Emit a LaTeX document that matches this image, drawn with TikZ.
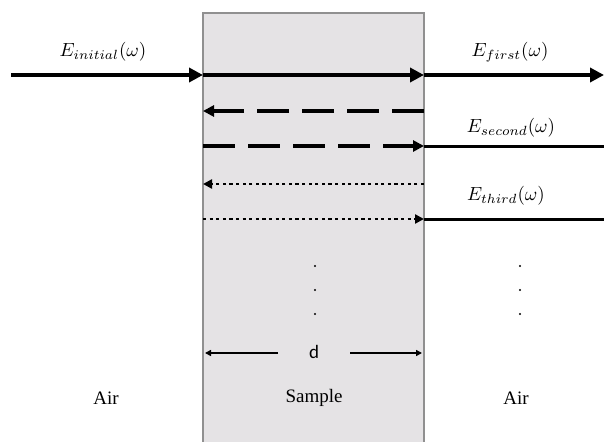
\documentclass[tikz,border=0pt]{standalone}
\usepackage{fontspec}
\setmainfont{Liberation Serif}
\newfontfamily\dfont{Carlito}
\usetikzlibrary{arrows.meta}
\definecolor{samplefill}{HTML}{E5E3E5}
\definecolor{sampleedge}{HTML}{909090}
\newcommand{\bigmath}[1]{\scalebox{1.9}{$#1$}}
\begin{document}
\begin{tikzpicture}[x=1pt,y=-1pt,
  thickline/.style={line width=4.5pt,-{Triangle[length=14pt,width=14pt]}},
  dashline/.style={line width=4pt,dash pattern=on 32pt off 13pt,-{Triangle[length=11pt,width=11pt]}},
  dotline/.style={line width=2.8pt,dash pattern=on 3.2pt off 3.4pt,-{Triangle[length=9pt,width=9pt]}},
  solidline/.style={line width=3pt},
  mathlabel/.style={inner sep=0pt},
  txt/.style={font=\fontsize{19}{21}\selectfont,inner sep=0pt},
  dimline/.style={line width=1.5pt,-{Triangle[length=6pt,width=6pt]}},
  dotnode/.style={circle,fill=black,inner sep=0pt,minimum size=2.4pt}]
\useasboundingbox (0,0) rectangle (604,441);
\fill[samplefill] (203,13) rectangle (424,445);
\draw[sampleedge,line width=1.5pt] (203,445) -- (203,13) -- (424,13) -- (424,445);
% coordinates
\coordinate (a0) at (11,75);
\coordinate (aL) at (203,75);
\coordinate (aR) at (424,75);
\coordinate (aE) at (604,75);
\coordinate (bL) at (203,111);
\coordinate (bR) at (424,111);
\coordinate (cL) at (203,146);
\coordinate (cR) at (424,146);
\coordinate (cE) at (604,146);
\coordinate (dL) at (203,184);
\coordinate (dR) at (424,184);
\coordinate (eL) at (203,219);
\coordinate (eR) at (424,219);
\coordinate (eE) at (604,219);
% arrows
\draw[thickline] (a0) -- (aL);
\draw[thickline] (aL) -- (aR);
\draw[thickline] (aR) -- (aE);
\draw[dashline] (bR) -- (bL);
\draw[dashline] (cL) -- (cR);
\draw[solidline] (cR) -- (cE);
\draw[dotline] (dR) -- (dL);
\draw[dotline] (eL) -- (eR);
\draw[solidline] (eR) -- (eE);
% labels
\node[mathlabel] (Li) at (103,52) {\bigmath{E_{initial}(\omega)}};
\node[mathlabel] (Lf) at (510,52) {\bigmath{E_{first}(\omega)}};
\node[mathlabel] (Ls) at (511,128) {\bigmath{E_{second}(\omega)}};
\node[mathlabel] (Lt) at (506,196) {\bigmath{E_{third}(\omega)}};
% dots
\node[dotnode] (m1) at (315,266) {};
\node[dotnode] (m2) at (315,290) {};
\node[dotnode] (m3) at (315,314) {};
\node[dotnode] (r1) at (520,266) {};
\node[dotnode] (r2) at (520,290) {};
\node[dotnode] (r3) at (520,314) {};
% dimension
\node[inner sep=0pt,font=\dfont\fontsize{19}{21}\selectfont] (d) at (314,352) {d};
\coordinate (dl0) at (278,353);
\coordinate (dl1) at (205,353);
\coordinate (dr0) at (350,353);
\coordinate (dr1) at (422,353);
\draw[dimline] (dl0) -- (dl1);
\draw[dimline] (dr0) -- (dr1);
% region labels
\node[txt] (airL) at (106,398) {Air};
\node[txt] (samp) at (314,398) {Sample};
\node[txt] (airR) at (516,398) {Air};
\end{tikzpicture}
\end{document}
